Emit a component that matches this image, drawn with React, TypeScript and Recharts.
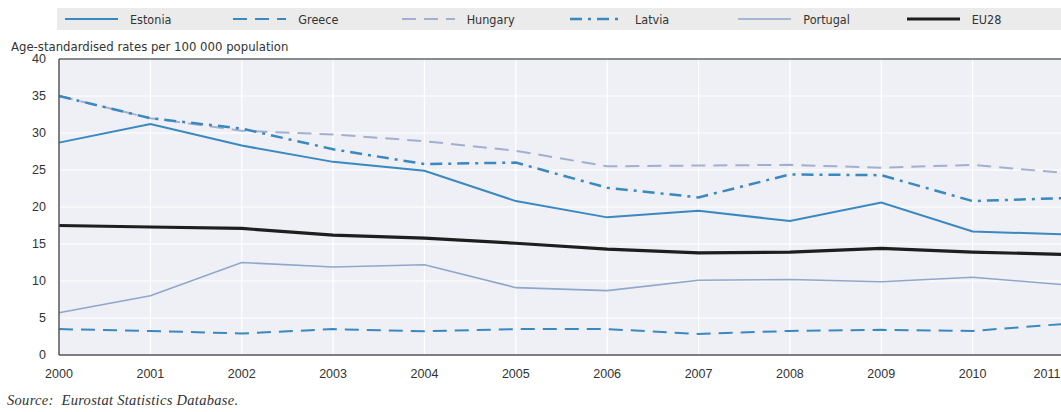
import { LineChart, Line, XAxis, YAxis, CartesianGrid, ReferenceLine } from "recharts";

const years = ["2000", "2001", "2002", "2003", "2004", "2005", "2006", "2007", "2008", "2009", "2010", "2011"];
const estonia = [28.7, 31.2, 28.3, 26.1, 24.9, 20.8, 18.6, 19.5, 18.1, 20.6, 16.7, 16.3];
const greece = [3.5, 3.25, 2.9, 3.5, 3.2, 3.5, 3.5, 2.85, 3.25, 3.4, 3.25, 4.2];
const hungary = [35.0, 32.0, 30.3, 29.8, 28.9, 27.6, 25.5, 25.6, 25.7, 25.3, 25.7, 24.6];
const latvia = [35.0, 32.0, 30.6, 27.8, 25.8, 26.0, 22.6, 21.3, 24.4, 24.3, 20.8, 21.2];
const portugal = [5.7, 8.0, 12.5, 11.9, 12.2, 9.1, 8.7, 10.1, 10.2, 9.9, 10.5, 9.5];
const eu28 = [17.5, 17.3, 17.1, 16.2, 15.8, 15.1, 14.3, 13.8, 13.9, 14.4, 13.9, 13.6];
const yTicks = [0, 5, 10, 15, 20, 25, 30, 35, 40];

const data = years.map((year, i) => ({
  year,
  Estonia: estonia[i],
  Greece: greece[i],
  Hungary: hungary[i],
  Latvia: latvia[i],
  Portugal: portugal[i],
  EU28: eu28[i],
}));

const series = [
  { key: "Estonia", color: "#3a88c0", width: 2, dash: undefined },
  { key: "Greece", color: "#3a88c0", width: 2, dash: "14 8" },
  { key: "Hungary", color: "#a2afcf", width: 2, dash: "14 8" },
  { key: "Latvia", color: "#3a88c0", width: 2.5, dash: "12 6 3 6" },
  { key: "Portugal", color: "#8ea7cb", width: 1.6, dash: undefined },
  { key: "EU28", color: "#1e1e1e", width: 3.2, dash: undefined },
];

const sans = "'Liberation Sans', Arial, sans-serif";
const narrow = "'Liberation Sans Narrow', 'DejaVu Sans Condensed', 'Liberation Sans', sans-serif";
const tickFont = { fontFamily: sans, fontSize: 12.5, fill: "#333" };

// last year label sits pulled in from the clipped right edge, as in the original
function YearTick(props: any) {
  const { x, y, payload, index } = props;
  const last = index === years.length - 1;
  return (
    <text x={last ? x - 17 : x} y={y} dy="0.71em" textAnchor="middle" {...tickFont}>
      {payload.value}
    </text>
  );
}

function LegendBar() {
  return (
    <div
      style={{
        position: "absolute",
        top: 8,
        left: 57,
        width: 1010,
        height: 22,
        display: "flex",
        alignItems: "center",
        background: "#ebebeb",
        paddingLeft: 8,
        fontFamily: narrow,
        fontSize: 12.5,
        color: "#333",
      }}
    >
      {series.map(s => (
        <div key={s.key} style={{ width: 175, display: "flex", alignItems: "center" }}>
          <svg width={53} height={8} style={{ marginRight: 12 }}>
            <line x1={0} y1={4} x2={53} y2={4} stroke={s.color} strokeWidth={s.width} strokeDasharray={s.dash} />
          </svg>
          <span>{s.key}</span>
        </div>
      ))}
    </div>
  );
}

export default function App() {
  return (
    <div style={{ position: "absolute", left: 0, top: 0, width: 1061, height: 412, overflow: "hidden", background: "#fff" }}>
      <LineChart width={1080} height={412} data={data} margin={{ top: 59, right: 16, bottom: 27, left: 0 }}>
        <CartesianGrid fill="#eef0f5" stroke="#ffffff" strokeWidth={1.2} />
        <XAxis
          dataKey="year"
          tick={<YearTick />}
          tickSize={0}
          tickMargin={14}
          interval={0}
          axisLine={{ stroke: "#555", strokeWidth: 1.5 }}
        />
        <YAxis
          width={59}
          domain={[0, 40]}
          ticks={yTicks}
          interval={0}
          tick={tickFont}
          tickSize={0}
          tickMargin={13}
          axisLine={{ stroke: "#555", strokeWidth: 1.5 }}
        />
        <ReferenceLine y={40} stroke="#666" strokeWidth={1.5} />
        {series.map(s => (
          <Line
            key={s.key}
            dataKey={s.key}
            type="linear"
            stroke={s.color}
            strokeWidth={s.width}
            strokeDasharray={s.dash}
            dot={false}
            activeDot={false}
            isAnimationActive={false}
          />
        ))}
      </LineChart>
      <LegendBar />
      <div
        style={{
          position: "absolute",
          left: 11,
          top: 39,
          fontFamily: narrow,
          fontSize: 13,
          color: "#333",
        }}
      >
        Age-standardised rates per 100 000 population
      </div>
      <div
        style={{
          position: "absolute",
          left: 7,
          top: 392,
          fontFamily: "'Liberation Serif', serif",
          fontStyle: "italic",
          fontSize: 14.5,
          letterSpacing: 0.3,
          color: "#333",
        }}
      >
        Source:&nbsp; Eurostat Statistics Database.
      </div>
    </div>
  );
}
